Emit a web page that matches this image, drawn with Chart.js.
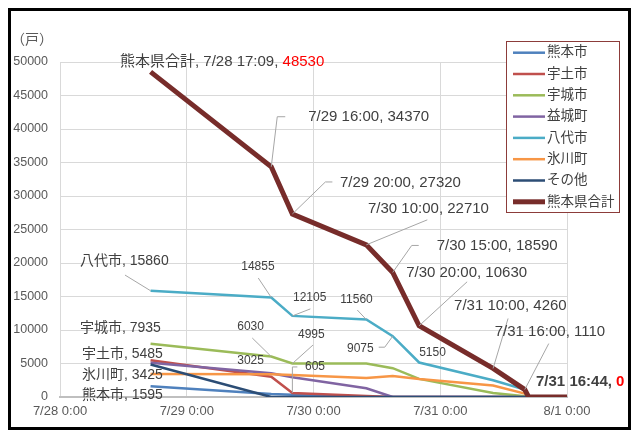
<!DOCTYPE html>
<html>
<head>
<meta charset="UTF-8">
<title>熊本県 停電戸数の推移</title>
<script src="https://cdn.jsdelivr.net/npm/chart.js@4.4.0/dist/chart.umd.min.js"></script>
<style>
body { margin:0; background:#fff; }
#wrap { position:relative; width:638px; height:435px; }
#frame { position:absolute; left:8px; top:8px; width:617px; height:416px; border:3px solid #000; pointer-events:none; }
</style>
</head>
<body>
<div id="wrap">
<canvas id="myChart" width="638" height="435" style="width:638px;height:435px"></canvas>
<div id="frame"></div>
</div>
<script>
// 時刻 (7/28 0:00 からの時間に変換して使う)
var times = ["7/28 17:09","7/29 16:00","7/29 20:00","7/30 10:00","7/30 15:00","7/30 20:00","7/31 10:00","7/31 16:00","7/31 16:44","8/1 0:00"];
var xTickLabels = ["7/28 0:00","7/29 0:00","7/30 0:00","7/31 0:00","8/1 0:00"];
var yTickLabels = [0,5000,10000,15000,20000,25000,30000,35000,40000,45000,50000];

var seriesNames = ["熊本市","宇土市","宇城市","益城町","八代市","氷川町","その他","熊本県合計"];
var kumamotoShi = [1595, 450, 350, 0, 0, 0, 0, 0, 0, null];
var udoShi      = [5485, 3025, 605, 150, 0, 0, 0, 0, 0, null];
var ukiShi      = [7935, 6030, 4995, 4995, 4300, 2700, 600, 100, 0, null];
var mashikiMachi= [5100, 3550, 2950, 1300, 0, 0, 0, 0, 0, null];
var yatsushiroShi=[15860, 14855, 12105, 11560, 9075, 5150, 2500, 1100, 0, null];
var hikawaMachi = [3425, 3400, 3300, 2850, 3150, 2700, 1700, 500, 0, null];
var sonota      = [4850, 0, 0, 0, 0, 0, 0, 0, 0, null];
var kenTotal    = [48530, 34370, 27320, 22710, 18590, 10630, 4260, 1110, 0, 0];

var colors = ["#4F81BD","#C0504D","#9BBB59","#8064A2","#4BACC6","#F79646","#2C4D75","#772C2A"];
var FONT = "'Liberation Sans','Noto Sans CJK JP',sans-serif";

function toHours(t) {
	var p = t.split(" ");
	var md = p[0].split("/");
	var hm = p[1].split(":");
	var m = parseInt(md[0]), d = parseInt(md[1]);
	var day = (m == 7) ? d - 28 : 31 - 28 + d;
	return day * 24 + parseInt(hm[0]) + parseInt(hm[1]) / 60;
}

function pts(vals) {
	var out = [];
	for (var i = 0; i < vals.length; i++) {
		out.push({ x: toHours(times[i]), y: vals[i] });
	}
	return out;
}

var allVals = [kumamotoShi, udoShi, ukiShi, mashikiMachi, yatsushiroShi, hikawaMachi, sonota, kenTotal];
var datasets = [];
for (var k = 0; k < allVals.length; k++) {
	datasets.push({
		label: seriesNames[k],
		data: pts(allVals[k]),
		borderColor: colors[k],
		backgroundColor: colors[k],
		borderWidth: k == 7 ? 5 : 2.5,
		pointRadius: 0,
		tension: 0,
		order: allVals.length - k //後の系列を上に描く
	});
}

// データラベル: ds=系列, i=点, dx/dy=点からのずれ(左端, 中央), leader=引き出し線
var labelDefs = [
	{ds:7, i:0, fmt:"full", size:15, dx:-30.6, dy:-9.8},
	{ds:7, i:1, fmt:"time", size:15, dx:37, dy:-50, leader:[[6,-50],[14,-50]]},
	{ds:7, i:2, fmt:"time", size:15, dx:47.6, dy:-31, leader:[[33,-32],[40,-32]]},
	{ds:7, i:3, fmt:"time", size:15, dx:1.7, dy:-36, leader:[[61,-25]]},
	{ds:7, i:4, fmt:"time", size:15, dx:44, dy:-27, leader:[[19,-27],[26,-27]]},
	{ds:7, i:5, fmt:"time", size:15, dx:-13, dy:-53, leader:[[48,-44]]},
	{ds:7, i:6, fmt:"time", size:15, dx:-39, dy:-62.5, leader:[[15,-50]]},
	{ds:7, i:7, fmt:"time", size:15, dx:-30, dy:-57.6, leader:[[24,-46]]},
	{ds:7, i:8, fmt:"timeBold", size:15, dx:7.4, dy:-15},
	{ds:4, i:0, fmt:"name", size:14, dx:-70.6, dy:-29.7, leader:[[-25.6,-15.7]]},
	{ds:4, i:1, fmt:"value", size:12, dx:-30, dy:-30.5, leader:[[-13,-19.5]]},
	{ds:4, i:2, fmt:"value", size:12, dx:0.6, dy:-18, leader:[[18,-7]]},
	{ds:4, i:3, fmt:"value", size:12, dx:-26, dy:-19.5, leader:[[-9,-9.5]]},
	{ds:4, i:4, fmt:"value", size:12, dx:-45.7, dy:12, leader:[[-8,11],[-14,11]]},
	{ds:4, i:5, fmt:"value", size:12, dx:0, dy:-9.5},
	{ds:2, i:0, fmt:"name", size:14, dx:-70.6, dy:-16},
	{ds:2, i:1, fmt:"value", size:12, dx:-34, dy:-29.6, leader:[[-19,-18.6]]},
	{ds:2, i:2, fmt:"value", size:12, dx:5.6, dy:-28.5, leader:[[20.6,-18.5]]},
	{ds:1, i:0, fmt:"name", size:14, dx:-68.6, dy:-6},
	{ds:1, i:1, fmt:"value", size:12, dx:-34, dy:-15.7},
	{ds:1, i:2, fmt:"value", size:12, dx:12.6, dy:-26, leader:[[0,-26],[5,-26]]},
	{ds:5, i:0, fmt:"name", size:14, dx:-68.6, dy:1},
	{ds:0, i:0, fmt:"name", size:14, dx:-68.6, dy:8.7}
];

function labelParts(d) {
	var v = String(allVals[d.ds][d.i]);
	var t = times[d.i];
	if (d.fmt == "full") return [[seriesNames[d.ds] + ", " + t + ", ", "#404040"], [v, "#FF0000"]];
	if (d.fmt == "time") return [[t + ", " + v, "#404040"]];
	if (d.fmt == "timeBold") return [[t + ", ", "#404040"], [v, "#FF0000"]];
	if (d.fmt == "name") return [[seriesNames[d.ds] + ", " + v, "#404040"]];
	return [[v, "#404040"]];
}

var labelPlugin = {
	id: 'dataLabels',
	afterDatasetsDraw: function(chart) {
		var ctx = chart.ctx;
		ctx.save();
		labelDefs.forEach(function(d) {
			var p = chart.getDatasetMeta(d.ds).data[d.i];
			if (d.leader) {
				ctx.strokeStyle = '#a6a6a6';
				ctx.lineWidth = 1;
				ctx.beginPath();
				ctx.moveTo(p.x, p.y);
				d.leader.forEach(function(o) { ctx.lineTo(p.x + o[0], p.y + o[1]); });
				ctx.stroke();
			}
			ctx.font = (d.fmt == "timeBold" ? "bold " : "") + d.size + "px " + FONT;
			ctx.textBaseline = 'middle';
			ctx.textAlign = 'left';
			var x = p.x + d.dx;
			labelParts(d).forEach(function(part) {
				ctx.fillStyle = part[1];
				ctx.fillText(part[0], x, p.y + d.dy);
				x += ctx.measureText(part[0]).width;
			});
		});
		ctx.restore();
	},
	afterDraw: function(chart) {
		var ctx = chart.ctx;
		ctx.save();
		// 単位
		ctx.font = "14px " + FONT;
		ctx.fillStyle = '#595959';
		ctx.textBaseline = 'middle';
		ctx.fillText("（戸）", 11, 40);
		// 凡例
		ctx.fillStyle = '#fff';
		ctx.fillRect(506, 41, 113, 171);
		ctx.strokeStyle = '#8c3c3a';
		ctx.lineWidth = 1;
		ctx.strokeRect(506.5, 41.5, 113, 171);
		ctx.font = "13.5px " + FONT;
		for (var k = 0; k < seriesNames.length; k++) {
			var y = 52.7 + k * 21.3;
			ctx.strokeStyle = colors[k];
			ctx.lineWidth = k == 7 ? 5 : 2.5;
			ctx.beginPath();
			ctx.moveTo(513, y);
			ctx.lineTo(545, y);
			ctx.stroke();
			ctx.fillStyle = '#404040';
			ctx.fillText(seriesNames[k], 547, y);
		}
		ctx.restore();
	}
};

var ctx = document.getElementById('myChart').getContext('2d');
var myChart = new Chart(ctx, {
	type: 'line',
	data: { datasets: datasets },
	options: {
		responsive: false,
		animation: false,
		layout: { padding: { left: 0, right: 71, top: 62, bottom: 8 } },
		plugins: { legend: { display: false }, tooltip: { enabled: false } },
		scales: {
			x: {
				type: 'linear', min: 0, max: 96,
				afterBuildTicks: function(s) { s.ticks = xTickLabels.map(function(l, i) { return { value: i * 24 }; }); },
				ticks: {
					autoSkip: false, maxRotation: 0, padding: 7, color: '#595959',
					font: { size: 13, family: FONT },
					callback: function(v) { return xTickLabels[Math.round(v / 24)]; }
				},
				grid: { color: '#d9d9d9', drawTicks: false },
				border: { color: '#bfbfbf', width: 2 },
				afterFit: function(s) { s.height = 30; }
			},
			y: {
				min: 0, max: 50000,
				afterBuildTicks: function(s) { s.ticks = yTickLabels.map(function(v) { return { value: v }; }); },
				ticks: {
					padding: 12, color: '#595959',
					font: { size: 12.5, family: FONT },
					callback: function(v) { return String(v); }
				},
				grid: { color: '#d9d9d9', drawTicks: false },
				border: { display: false },
				afterFit: function(s) { s.width = 60; }
			}
		}
	},
	plugins: [labelPlugin]
});
</script>
</body>
</html>
